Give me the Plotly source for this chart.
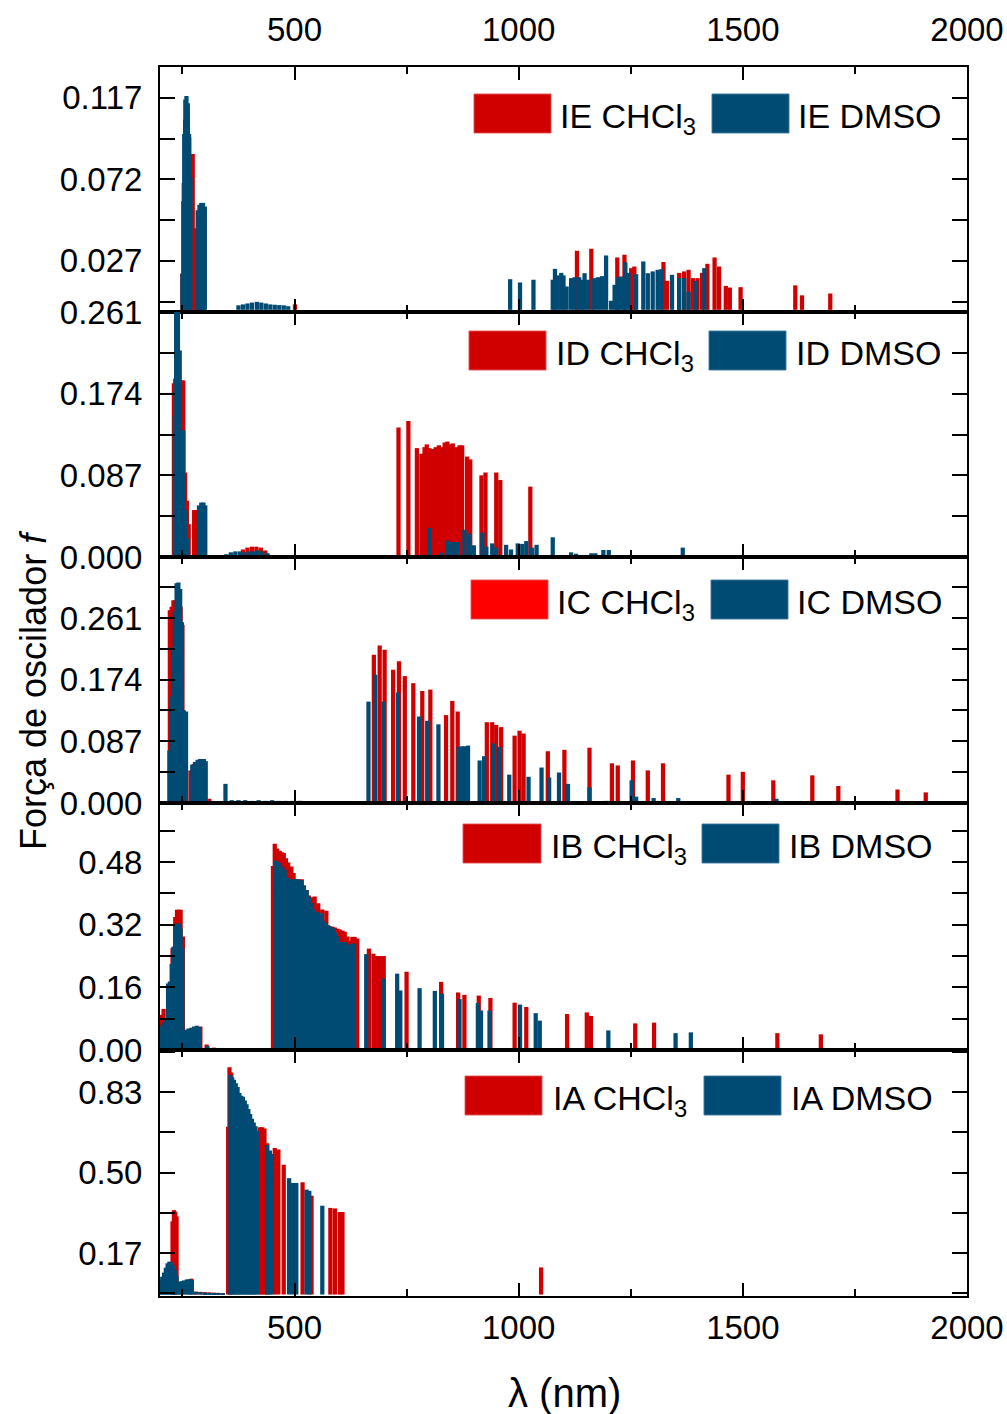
import plotly.graph_objects as go

# ---------------- data (wavelength nm, oscillator strength f) ----------------
IE_CHCl3_wl = [250, 253, 256, 259, 262, 265, 269, 273, 277, 281, 287, 292, 297, 501,
               1130, 1162, 1220, 1236, 1251, 1258, 1323, 1331, 1358, 1369, 1379, 1389, 1399,
               1409, 1421, 1437, 1447, 1462, 1471, 1495, 1617, 1632, 1695]
IE_CHCl3_f = [0.02, 0.07, 0.105, 0.112, 0.110, 0.095, 0.086, 0.086, 0.045, 0.044, 0.05, 0.055, 0.05, 0.003,
              0.0326, 0.0337, 0.0289, 0.0304, 0.023, 0.0239, 0.0264, 0.016, 0.0204, 0.0212, 0.0221, 0.0175, 0.0175,
              0.0204, 0.0254, 0.0289, 0.0239, 0.0132, 0.0123, 0.0125, 0.0135, 0.008, 0.009]
IE_DMSO_wl = [250, 252, 254, 256.5, 259, 262, 265, 268, 284, 288, 292, 296, 300,
              375, 385, 395, 405, 416, 426, 436, 446, 456, 466, 476, 486,
              981, 1003, 1033, 1076, 1081, 1087, 1095, 1100, 1107, 1117, 1125, 1135, 1142, 1147, 1155,
              1168, 1177, 1186, 1195, 1206, 1214, 1222, 1229, 1238, 1245, 1262, 1278, 1288, 1299, 1310,
              1318, 1342, 1358, 1369, 1379, 1395, 1414]
IE_DMSO_f = [0.02, 0.06, 0.097, 0.116, 0.118, 0.114, 0.097, 0.073, 0.055, 0.058, 0.059, 0.059, 0.057,
             0.0025, 0.003, 0.0035, 0.004, 0.0044, 0.004, 0.0035, 0.003, 0.0028, 0.0026, 0.0025, 0.002,
             0.0169, 0.0151, 0.0166, 0.0166, 0.0226, 0.019, 0.0204, 0.019, 0.0129, 0.0175, 0.018, 0.018, 0.0166, 0.0202, 0.0166,
             0.0175, 0.018, 0.0186, 0.030, 0.005, 0.0138, 0.018, 0.0184, 0.0262, 0.0204, 0.0197, 0.0267, 0.0202, 0.0212, 0.0221,
             0.0224, 0.0193, 0.0175, 0.0175, 0.010, 0.016, 0.023]

ID_CHCl3_wl = [231, 234, 238, 242, 245, 249, 252, 256, 260, 264, 276, 281,
               385, 395, 405, 415, 425, 435,
               732, 754, 773, 783, 790, 795, 801, 809, 815, 822, 827, 835, 841, 848, 853, 861, 868, 874,
               885, 892, 917, 926, 950, 959, 1026]
ID_CHCl3_f = [0.185, 0.19, 0.2, 0.19, 0.188, 0.188, 0.188, 0.09, 0.06, 0.035, 0.05, 0.05,
              0.008, 0.010, 0.011, 0.011, 0.010, 0.007,
              0.138, 0.145, 0.116, 0.110, 0.117, 0.120, 0.116, 0.115, 0.117, 0.119, 0.117, 0.122, 0.123, 0.120, 0.121, 0.117, 0.119, 0.119,
              0.107, 0.104, 0.087, 0.090, 0.090, 0.082, 0.075]
ID_DMSO_wl = [233, 236, 240, 244, 248, 252, 256, 260, 287, 292, 297, 301,
              348, 358, 368, 378, 388, 398, 408, 418, 428, 440, 452,
              801, 827, 842, 848, 857, 864, 879, 889, 900, 919, 928, 941, 950, 972, 983, 998, 1008, 1017,
              1030, 1040, 1076, 1117, 1128, 1162, 1171, 1189, 1201, 1366]
ID_DMSO_f = [0.15, 0.30, 0.30, 0.22, 0.135, 0.135, 0.05, 0.02, 0.055, 0.058, 0.058, 0.055,
             0.003, 0.005, 0.006, 0.006, 0.005, 0.006, 0.006, 0.007, 0.006, 0.004, 0.002,
             0.031, 0.0046, 0.0174, 0.016, 0.016, 0.016, 0.029, 0.025, 0.0125, 0.026, 0.011, 0.0145, 0.010, 0.013, 0.008, 0.0145, 0.014, 0.017,
             0.010, 0.013, 0.021, 0.005, 0.0035, 0.004, 0.004, 0.0075, 0.0075, 0.010]

IC_CHCl3_wl = [222, 226, 230, 234, 238, 242, 246, 250, 268, 275, 282, 290, 298, 310, 515,
               677, 690, 701, 720, 733, 746, 765, 785, 803, 838, 852, 864, 929, 941, 950, 961,
               991, 1002, 1011, 1065, 1102, 1158, 1208, 1221, 1255, 1288, 1322, 1468, 1500, 1568,
               1655, 1713, 1845, 1908]
IC_CHCl3_f = [0.272, 0.277, 0.286, 0.286, 0.286, 0.28, 0.277, 0.251, 0.046, 0.055, 0.058, 0.062, 0.062, 0.006, 0.003,
              0.209, 0.222, 0.216, 0.188, 0.200, 0.179, 0.169, 0.158, 0.160, 0.124, 0.144, 0.129, 0.114, 0.114, 0.110, 0.107,
              0.095, 0.102, 0.098, 0.073, 0.075, 0.078, 0.056, 0.053, 0.060, 0.046, 0.056, 0.040, 0.044, 0.032,
              0.039, 0.024, 0.019, 0.015]
IC_DMSO_wl = [221, 225, 229, 233, 237, 241, 245, 249, 253, 258, 272, 278, 284, 290, 296, 302,
              346, 360, 375, 390, 405, 420, 435, 450, 465, 480, 495, 510,
              665, 680, 699, 731, 778, 796, 821, 866, 874, 880, 887, 913, 923, 943, 956, 979,
              1022, 1051, 1068, 1090, 1110, 1158, 1196, 1252, 1262, 1301, 1356, 1416, 1575, 1705]
IC_DMSO_f = [0.074, 0.15, 0.22, 0.27, 0.31, 0.311, 0.302, 0.255, 0.131, 0.129, 0.054, 0.058, 0.061, 0.062, 0.062, 0.059,
             0.027, 0.004, 0.004, 0.004, 0.003, 0.004, 0.003, 0.004, 0.003, 0.003, 0.003, 0.003,
             0.143, 0.181, 0.143, 0.156, 0.122, 0.116, 0.111, 0.079, 0.080, 0.080, 0.081, 0.060, 0.066, 0.084, 0.079, 0.040,
             0.037, 0.050, 0.036, 0.043, 0.027, 0.022, 0.003, 0.032, 0.009, 0.007, 0.007, 0.002, 0.006, 0.003]

IB_CHCl3_wl = [204, 208, 228, 234, 238, 242, 246, 251, 290, 304, 320, 340, 360, 380, 400, 420, 440,
               452, 456, 461, 467, 472, 476, 481, 486, 493, 498, 504, 510, 516, 521, 527, 532, 538, 545,
               553, 562, 571, 579, 585, 590, 596, 601, 607, 612, 618, 623, 629, 634, 640,
               666, 676, 683, 691, 699, 750, 827, 865, 879, 911, 937, 991, 1017, 1108, 1152, 1161,
               1260, 1302, 1577, 1674]
IB_CHCl3_f = [0.09, 0.105, 0.26, 0.34, 0.358, 0.358, 0.358, 0.29, 0.06, 0.014, 0.006, 0.005, 0.004, 0.004, 0.004, 0.004, 0.004,
              0.47, 0.527, 0.515, 0.509, 0.505, 0.503, 0.49, 0.479, 0.469, 0.452, 0.436, 0.436, 0.436, 0.42, 0.409, 0.395, 0.390, 0.392,
              0.375, 0.359, 0.356, 0.316, 0.315, 0.313, 0.31, 0.308, 0.305, 0.302, 0.29, 0.279, 0.289, 0.289, 0.285,
              0.259, 0.246, 0.24, 0.24, 0.24, 0.200, 0.174, 0.147, 0.141, 0.139, 0.133, 0.121, 0.110, 0.092, 0.096, 0.087,
              0.068, 0.070, 0.043, 0.040]
IB_DMSO_wl = [202, 206, 210, 214, 218, 222, 226, 230, 234, 238, 242, 246, 250, 258, 264, 270, 276, 282, 288,
              306, 320, 340, 360, 380, 400, 420, 440,
              458, 463, 467, 473, 478, 483, 488, 493, 497, 502, 506, 511, 516, 521, 527, 532, 538, 543, 549,
              555, 560, 565, 570, 575, 580, 586, 591, 596, 601, 607, 612, 617, 623, 628, 633,
              660, 699, 729, 736, 779, 813, 829, 868, 909, 916, 935, 1003, 1038, 1047, 1200, 1350, 1384]
IB_DMSO_f = [0.06, 0.065, 0.07, 0.08, 0.17, 0.175, 0.22, 0.264, 0.319, 0.323, 0.323, 0.31, 0.26, 0.052, 0.055, 0.057, 0.06, 0.062, 0.058,
             0.010, 0.005, 0.004, 0.003, 0.003, 0.003, 0.003, 0.003,
             0.484, 0.48, 0.477, 0.468, 0.460, 0.44, 0.409, 0.436, 0.436, 0.436, 0.436, 0.434, 0.433, 0.42, 0.409, 0.39, 0.375, 0.36, 0.353,
             0.35, 0.349, 0.33, 0.325, 0.319, 0.315, 0.311, 0.3, 0.29, 0.276, 0.276, 0.276, 0.27, 0.268, 0.27, 0.272,
             0.245, 0.183, 0.195, 0.152, 0.158, 0.151, 0.144, 0.130, 0.120, 0.101, 0.101, 0.116, 0.094, 0.075, 0.050, 0.043, 0.045]

IA_CHCl3_wl = [228, 231, 234, 237, 270, 280, 290, 300, 310, 320, 330, 340,
               352, 355, 359, 423, 428, 433, 439, 456, 464, 476, 518, 538, 580, 590, 601, 607, 1050]
IA_CHCl3_f = [0.30, 0.346, 0.34, 0.32, 0.065, 0.012, 0.011, 0.010, 0.009, 0.008, 0.007, 0.006,
              0.688, 0.931, 0.91, 0.685, 0.685, 0.68, 0.62, 0.600, 0.594, 0.532, 0.460, 0.405, 0.355, 0.353, 0.338, 0.338, 0.111]
IA_DMSO_wl = [201, 205, 209, 213, 217, 221, 225, 229, 233, 237, 242, 248, 254, 260, 266, 271,
              280, 290, 300, 310, 320, 330, 340,
              357, 361, 365, 369, 373, 377, 381, 385, 389, 393, 397, 401, 405, 409, 413, 417,
              439, 445, 449, 488, 497, 504, 527, 533, 562]
IA_DMSO_f = [0.06, 0.073, 0.09, 0.11, 0.128, 0.135, 0.132, 0.12, 0.10, 0.075, 0.052, 0.055, 0.058, 0.062, 0.063, 0.06,
             0.011, 0.010, 0.008, 0.007, 0.006, 0.005, 0.005,
             0.90, 0.89, 0.88, 0.866, 0.85, 0.826, 0.815, 0.81, 0.795, 0.78, 0.76, 0.74, 0.72, 0.705, 0.69, 0.67,
             0.613, 0.59, 0.576, 0.477, 0.457, 0.457, 0.430, 0.425, 0.364]

PANEL_NAMES = ["IE", "ID", "IC", "IB", "IA"]
Y_RANGES = [[-0.0012, 0.134], [0, 0.261], [0, 0.347], [0, 0.631], [-0.006, 1.002]]
Y_TICKVALS = [[0.027, 0.072, 0.117], [0, 0.087, 0.174, 0.261], [0, 0.087, 0.174, 0.261],
              [0, 0.16, 0.32, 0.48], [0.17, 0.50, 0.83]]
Y_TICKTEXT = [["0.027", "0.072", "0.117"], ["0.000", "0.087", "0.174", "0.261"],
              ["0.000", "0.087", "0.174", "0.261"], ["0.00", "0.16", "0.32", "0.48"],
              ["0.17", "0.50", "0.83"]]
Y_MINOR = [[0.0045, 0.0495, 0.0945], [0.0435, 0.1305, 0.2175], [0.0435, 0.1305, 0.2175, 0.3045],
           [0.08, 0.24, 0.40, 0.56], [0.005, 0.335, 0.665, 0.995]]
X_TICKS = [500, 1000, 1500, 2000]

SERIES = [
    (IE_CHCl3_wl, IE_CHCl3_f, IE_DMSO_wl, IE_DMSO_f),
    (ID_CHCl3_wl, ID_CHCl3_f, ID_DMSO_wl, ID_DMSO_f),
    (IC_CHCl3_wl, IC_CHCl3_f, IC_DMSO_wl, IC_DMSO_f),
    (IB_CHCl3_wl, IB_CHCl3_f, IB_DMSO_wl, IB_DMSO_f),
    (IA_CHCl3_wl, IA_CHCl3_f, IA_DMSO_wl, IA_DMSO_f),
]

# ---------------- styling / layout ----------------
RED = "#D00000"
BLUE = "#004B73"
RED_SWATCH = ["#D00000", "#D00000", "#FF0000", "#D00000", "#D00000"]
FONT = "Liberation Sans, Arial, sans-serif"
TICK_FS = 33
LEG_FS = 34
BAR_W = 9.5

W, H = 1007, 1414
L, R, T, B = 160, 40, 67, 118
PW, PH = W - L - R, H - T - B
BOUNDS = [67, 312, 557, 803, 1050, 1296]


def fx(px):
    return (px - L) / PW


def fy(py):
    return (H - B - py) / PH


# legend layout per panel: red rect x0,x1, red text x, blue rect x0,x1, blue text x, rect y0,y1
LEG = [
    (474, 551, 558, 712, 789, 796, 94, 133),
    (469, 546, 554, 709, 786, 794, 331, 370),
    (471, 548, 555, 711, 788, 795, 580, 619),
    (463, 541, 549, 702, 779, 787, 824, 863),
    (465, 542, 551, 704, 781, 789, 1076, 1115),
]

fig = go.Figure()
layout = dict(
    width=W, height=H,
    margin=dict(l=L, r=R, t=T, b=B, autoexpand=False),
    paper_bgcolor="white", plot_bgcolor="white",
    barmode="overlay", showlegend=False,
    font=dict(family=FONT, size=TICK_FS, color="black"),
)
shapes = []
annotations = []

for i, (rw, rf, bw, bf) in enumerate(SERIES):
    k = i + 1
    xa = "x" if k == 1 else f"x{k}"
    ya = "y" if k == 1 else f"y{k}"
    fig.add_trace(go.Bar(x=rw, y=rf, width=BAR_W, marker=dict(color=RED, line=dict(width=0)),
                         xaxis=xa, yaxis=ya, name=f"{PANEL_NAMES[i]} CHCl3"))
    fig.add_trace(go.Bar(x=bw, y=bf, width=BAR_W, marker=dict(color=BLUE, line=dict(width=0)),
                         xaxis=xa, yaxis=ya, name=f"{PANEL_NAMES[i]} DMSO"))

    top, bot = BOUNDS[i], BOUNDS[i + 1]
    xkey = "xaxis" if k == 1 else f"xaxis{k}"
    ykey = "yaxis" if k == 1 else f"yaxis{k}"
    xdef = dict(
        domain=[0, 1], anchor=ya, range=[200, 2000], automargin=False,
        showline=True, linewidth=2, linecolor="black", mirror="allticks",
        ticks="inside", ticklen=13, tickwidth=2, tickcolor="black",
        tickmode="array", tickvals=X_TICKS, ticktext=[str(v) for v in X_TICKS],
        minor=dict(ticks="inside", ticklen=7, tickwidth=2, tickcolor="black",
                   tickmode="array", tickvals=[250, 750, 1250, 1750]),
        showgrid=False, zeroline=False,
        tickfont=dict(size=TICK_FS, family=FONT),
    )
    if k > 1:
        xdef["matches"] = "x"
    if i == 0:
        xdef.update(side="top", showticklabels=True, ticklabelstandoff=11)
    elif i == 4:
        xdef.update(side="bottom", showticklabels=True, ticklabelstandoff=1)
    else:
        xdef.update(showticklabels=False)
    layout[xkey] = xdef
    layout[ykey] = dict(
        domain=[fy(bot), fy(top)], anchor=xa, range=Y_RANGES[i], automargin=False,
        showline=True, linewidth=2, linecolor="black", mirror="allticks",
        ticks="inside", ticklen=15, tickwidth=2, tickcolor="black",
        tickmode="array", tickvals=Y_TICKVALS[i], ticktext=Y_TICKTEXT[i],
        minor=dict(ticks="inside", ticklen=15, tickwidth=2, tickcolor="black",
                   tickmode="array", tickvals=Y_MINOR[i]),
        showgrid=False, zeroline=False,
        tickfont=dict(size=TICK_FS, family=FONT), ticklabelstandoff=9,
    )

    rx0, rx1, rtx, bx0, bx1, btx, ry0, ry1 = LEG[i]
    shapes.append(dict(type="rect", xref="paper", yref="paper", x0=fx(rx0), x1=fx(rx1), y0=fy(ry1), y1=fy(ry0),
                       fillcolor=RED_SWATCH[i], line=dict(color="rgba(230,80,80,0.9)", width=1), layer="above"))
    shapes.append(dict(type="rect", xref="paper", yref="paper", x0=fx(bx0), x1=fx(bx1), y0=fy(ry1), y1=fy(ry0),
                       fillcolor=BLUE, line=dict(color="rgba(60,120,160,0.9)", width=1), layer="above"))
    annotations.append(dict(xref="paper", yref="paper", x=fx(rtx), y=fy((ry0 + ry1) / 2 + 5), xanchor="left", yanchor="middle",
                            text=f"{PANEL_NAMES[i]} CHCl<sub>3</sub>", showarrow=False,
                            font=dict(size=LEG_FS, family=FONT, color="black")))
    annotations.append(dict(xref="paper", yref="paper", x=fx(btx), y=fy((ry0 + ry1) / 2 + 2), xanchor="left", yanchor="middle",
                            text=f"{PANEL_NAMES[i]} DMSO", showarrow=False,
                            font=dict(size=LEG_FS, family=FONT, color="black")))

annotations.append(dict(xref="paper", yref="paper", x=fx(33), y=fy(690), xanchor="center", yanchor="middle",
                        text="Força de oscilador <i>f</i>", textangle=-90, showarrow=False,
                        font=dict(size=36, family=FONT, color="black")))
annotations.append(dict(xref="paper", yref="paper", x=fx(564), y=fy(1393), xanchor="center", yanchor="middle",
                        text="λ (nm)", showarrow=False,
                        font=dict(size=40, family=FONT, color="black")))

layout["shapes"] = shapes
layout["annotations"] = annotations
fig.update_layout(**layout)
fig.write_html("out.html")
